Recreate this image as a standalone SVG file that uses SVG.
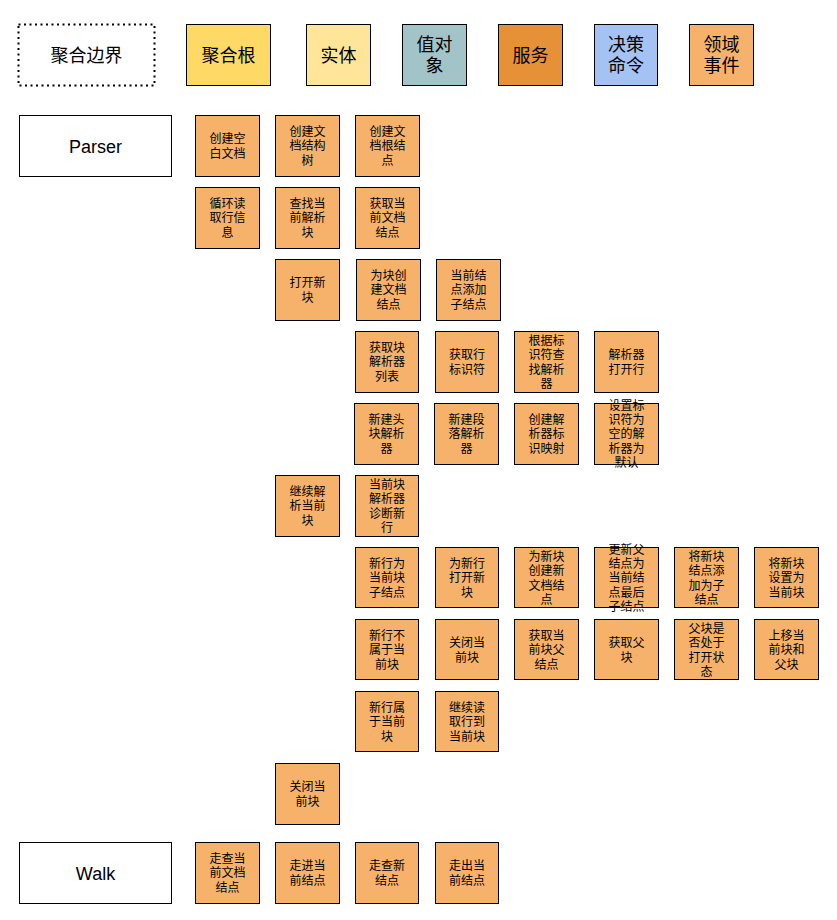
<svg xmlns="http://www.w3.org/2000/svg" width="837" height="920" viewBox="0 0 837 920">
<style>
.b{stroke:#000;stroke-width:1}
.o{fill:#F6B26B;stroke:#000;stroke-width:1}
.w{fill:#fff;stroke:#000;stroke-width:1}
.t{font-family:"Noto Sans CJK SC","Liberation Sans",sans-serif;font-size:12px;fill:#000;text-anchor:middle}
.L{font-family:"Noto Sans CJK SC","Liberation Sans",sans-serif;font-size:18px;fill:#000;text-anchor:middle}
.E{font-family:"Liberation Sans",Arial,sans-serif;font-size:18px;fill:#000;text-anchor:middle}
</style>
<rect width="837" height="920" fill="#fff"/>
<g id="legend">
<g id="lg-boundary"><rect x="18.5" y="24.5" width="136" height="61" fill="#fff" stroke="#000" stroke-width="2" stroke-dasharray="2 3.5"/><text class="L" x="86.5" y="61.6">聚合边界</text></g>
<g id="lg-root"><rect class="b" x="186.5" y="24.5" width="84" height="61" fill="#FFD966"/><text class="L" x="228.5" y="61.6">聚合根</text></g>
<g id="lg-entity"><rect class="b" x="306.5" y="24.5" width="64" height="61" fill="#FFE599"/><text class="L" x="338.5" y="61.6">实体</text></g>
<g id="lg-vo"><rect class="b" x="402.5" y="24.5" width="64" height="61" fill="#A2C4C9"/><text class="L" x="434.5" y="50.8">值对<tspan x="434.5" dy="21.6">象</tspan></text></g>
<g id="lg-service"><rect class="b" x="498.5" y="24.5" width="64" height="61" fill="#E69138"/><text class="L" x="530.5" y="61.6">服务</text></g>
<g id="lg-cmd"><rect class="b" x="594.5" y="24.5" width="63" height="61" fill="#A4C2F4"/><text class="L" x="626" y="50.8">决策<tspan x="626" dy="21.6">命令</tspan></text></g>
<g id="lg-event"><rect class="b" x="689.5" y="24.5" width="64" height="61" fill="#F6B26B"/><text class="L" x="721.5" y="50.8">领域<tspan x="721.5" dy="21.6">事件</tspan></text></g>
</g>
<g id="connectors"/>
<g id="parser"><rect class="w" x="19.5" y="115.5" width="152" height="61"/><text class="E" x="95.5" y="152.5">Parser</text></g>
<g id="walk"><rect class="w" x="19.5" y="842.5" width="152" height="61"/><text class="E" x="95.5" y="879.5">Walk</text></g>

<g id="n1"><rect class="o" x="195.5" y="115.5" width="64" height="61"/><text class="t" x="227.5" y="143.2">创建空<tspan x="227.5" dy="14.4">白文档</tspan></text></g>
<g id="n2"><rect class="o" x="275.5" y="115.5" width="64" height="61"/><text class="t" x="307.5" y="136">创建文<tspan x="307.5" dy="14.4">档结构</tspan><tspan x="307.5" dy="14.4">树</tspan></text></g>
<g id="n3"><rect class="o" x="355.5" y="115.5" width="64" height="61"/><text class="t" x="387.5" y="136">创建文<tspan x="387.5" dy="14.4">档根结</tspan><tspan x="387.5" dy="14.4">点</tspan></text></g>

<g id="n4"><rect class="o" x="195.5" y="187.5" width="64" height="61"/><text class="t" x="227.5" y="208">循环读<tspan x="227.5" dy="14.4">取行信</tspan><tspan x="227.5" dy="14.4">息</tspan></text></g>
<g id="n5"><rect class="o" x="275.5" y="187.5" width="64" height="61"/><text class="t" x="307.5" y="208">查找当<tspan x="307.5" dy="14.4">前解析</tspan><tspan x="307.5" dy="14.4">块</tspan></text></g>
<g id="n6"><rect class="o" x="355.5" y="187.5" width="64" height="61"/><text class="t" x="387.5" y="208">获取当<tspan x="387.5" dy="14.4">前文档</tspan><tspan x="387.5" dy="14.4">结点</tspan></text></g>

<g id="n7"><rect class="o" x="275.5" y="259.5" width="64" height="61"/><text class="t" x="307.5" y="287.2">打开新<tspan x="307.5" dy="14.4">块</tspan></text></g>
<g id="n8"><rect class="o" x="356.5" y="259.5" width="64" height="61"/><text class="t" x="388.5" y="280">为块创<tspan x="388.5" dy="14.4">建文档</tspan><tspan x="388.5" dy="14.4">结点</tspan></text></g>
<g id="n9"><rect class="o" x="436.5" y="259.5" width="64" height="61"/><text class="t" x="468.5" y="280">当前结<tspan x="468.5" dy="14.4">点添加</tspan><tspan x="468.5" dy="14.4">子结点</tspan></text></g>

<g id="n10"><rect class="o" x="355.5" y="331.5" width="63" height="61"/><text class="t" x="387" y="352">获取块<tspan x="387" dy="14.4">解析器</tspan><tspan x="387" dy="14.4">列表</tspan></text></g>
<g id="n11"><rect class="o" x="435.5" y="331.5" width="63" height="61"/><text class="t" x="467" y="359.2">获取行<tspan x="467" dy="14.4">标识符</tspan></text></g>
<g id="n12"><rect class="o" x="514.5" y="331.5" width="64" height="61"/><text class="t" x="546.5" y="344.8">根据标<tspan x="546.5" dy="14.4">识符查</tspan><tspan x="546.5" dy="14.4">找解析</tspan><tspan x="546.5" dy="14.4">器</tspan></text></g>
<g id="n13"><rect class="o" x="594.5" y="331.5" width="64" height="61"/><text class="t" x="626.5" y="359.2">解析器<tspan x="626.5" dy="14.4">打开行</tspan></text></g>

<g id="n14"><rect class="o" x="354.5" y="403.5" width="64" height="61"/><text class="t" x="386.5" y="424">新建头<tspan x="386.5" dy="14.4">块解析</tspan><tspan x="386.5" dy="14.4">器</tspan></text></g>
<g id="n15"><rect class="o" x="434.5" y="403.5" width="64" height="61"/><text class="t" x="466.5" y="424">新建段<tspan x="466.5" dy="14.4">落解析</tspan><tspan x="466.5" dy="14.4">器</tspan></text></g>
<g id="n16"><rect class="o" x="514.5" y="403.5" width="64" height="61"/><text class="t" x="546.5" y="424">创建解<tspan x="546.5" dy="14.4">析器标</tspan><tspan x="546.5" dy="14.4">识映射</tspan></text></g>
<g id="n17"><rect class="o" x="594.5" y="403.5" width="64" height="61"/><text class="t" x="626.5" y="409.6">设置标<tspan x="626.5" dy="14.4">识符为</tspan><tspan x="626.5" dy="14.4">空的解</tspan><tspan x="626.5" dy="14.4">析器为</tspan><tspan x="626.5" dy="14.4">默认</tspan></text></g>

<g id="n18"><rect class="o" x="275.5" y="475.5" width="64" height="61"/><text class="t" x="307.5" y="496">继续解<tspan x="307.5" dy="14.4">析当前</tspan><tspan x="307.5" dy="14.4">块</tspan></text></g>
<g id="n19"><rect class="o" x="355.5" y="475.5" width="63" height="61"/><text class="t" x="387" y="488.8">当前块<tspan x="387" dy="14.4">解析器</tspan><tspan x="387" dy="14.4">诊断新</tspan><tspan x="387" dy="14.4">行</tspan></text></g>

<g id="n20"><rect class="o" x="355.5" y="547.5" width="63" height="60"/><text class="t" x="387" y="568">新行为<tspan x="387" dy="14.4">当前块</tspan><tspan x="387" dy="14.4">子结点</tspan></text></g>
<g id="n21"><rect class="o" x="435.5" y="547.5" width="63" height="60"/><text class="t" x="467" y="568">为新行<tspan x="467" dy="14.4">打开新</tspan><tspan x="467" dy="14.4">块</tspan></text></g>
<g id="n22"><rect class="o" x="514.5" y="547.5" width="64" height="60"/><text class="t" x="546.5" y="560.8">为新块<tspan x="546.5" dy="14.4">创建新</tspan><tspan x="546.5" dy="14.4">文档结</tspan><tspan x="546.5" dy="14.4">点</tspan></text></g>
<g id="n23"><rect class="o" x="594.5" y="547.5" width="64" height="60"/><text class="t" x="626.5" y="553.6">更新父<tspan x="626.5" dy="14.4">结点为</tspan><tspan x="626.5" dy="14.4">当前结</tspan><tspan x="626.5" dy="14.4">点最后</tspan><tspan x="626.5" dy="14.4">子结点</tspan></text></g>
<g id="n24"><rect class="o" x="674.5" y="547.5" width="64" height="60"/><text class="t" x="706.5" y="560.8">将新块<tspan x="706.5" dy="14.4">结点添</tspan><tspan x="706.5" dy="14.4">加为子</tspan><tspan x="706.5" dy="14.4">结点</tspan></text></g>
<g id="n25"><rect class="o" x="754.5" y="547.5" width="64" height="60"/><text class="t" x="786.5" y="568">将新块<tspan x="786.5" dy="14.4">设置为</tspan><tspan x="786.5" dy="14.4">当前块</tspan></text></g>

<g id="n26"><rect class="o" x="355.5" y="619.5" width="63" height="60"/><text class="t" x="387" y="640">新行不<tspan x="387" dy="14.4">属于当</tspan><tspan x="387" dy="14.4">前块</tspan></text></g>
<g id="n27"><rect class="o" x="435.5" y="619.5" width="63" height="60"/><text class="t" x="467" y="647.2">关闭当<tspan x="467" dy="14.4">前块</tspan></text></g>
<g id="n28"><rect class="o" x="514.5" y="619.5" width="64" height="60"/><text class="t" x="546.5" y="640">获取当<tspan x="546.5" dy="14.4">前块父</tspan><tspan x="546.5" dy="14.4">结点</tspan></text></g>
<g id="n29"><rect class="o" x="594.5" y="619.5" width="64" height="60"/><text class="t" x="626.5" y="647.2">获取父<tspan x="626.5" dy="14.4">块</tspan></text></g>
<g id="n30"><rect class="o" x="674.5" y="619.5" width="64" height="60"/><text class="t" x="706.5" y="632.8">父块是<tspan x="706.5" dy="14.4">否处于</tspan><tspan x="706.5" dy="14.4">打开状</tspan><tspan x="706.5" dy="14.4">态</tspan></text></g>
<g id="n31"><rect class="o" x="754.5" y="619.5" width="64" height="60"/><text class="t" x="786.5" y="640">上移当<tspan x="786.5" dy="14.4">前块和</tspan><tspan x="786.5" dy="14.4">父块</tspan></text></g>

<g id="n32"><rect class="o" x="355.5" y="691.5" width="63" height="60"/><text class="t" x="387" y="712">新行属<tspan x="387" dy="14.4">于当前</tspan><tspan x="387" dy="14.4">块</tspan></text></g>
<g id="n33"><rect class="o" x="435.5" y="691.5" width="63" height="60"/><text class="t" x="467" y="712">继续读<tspan x="467" dy="14.4">取行到</tspan><tspan x="467" dy="14.4">当前块</tspan></text></g>

<g id="n34"><rect class="o" x="275.5" y="763.5" width="64" height="61"/><text class="t" x="307.5" y="791.2">关闭当<tspan x="307.5" dy="14.4">前块</tspan></text></g>

<g id="n35"><rect class="o" x="195.5" y="842.5" width="64" height="61"/><text class="t" x="227.5" y="863">走查当<tspan x="227.5" dy="14.4">前文档</tspan><tspan x="227.5" dy="14.4">结点</tspan></text></g>
<g id="n36"><rect class="o" x="275.5" y="842.5" width="64" height="61"/><text class="t" x="307.5" y="870.2">走进当<tspan x="307.5" dy="14.4">前结点</tspan></text></g>
<g id="n37"><rect class="o" x="355.5" y="842.5" width="63" height="61"/><text class="t" x="387" y="870.2">走查新<tspan x="387" dy="14.4">结点</tspan></text></g>
<g id="n38"><rect class="o" x="435.5" y="842.5" width="63" height="61"/><text class="t" x="467" y="870.2">走出当<tspan x="467" dy="14.4">前结点</tspan></text></g>
</svg>
